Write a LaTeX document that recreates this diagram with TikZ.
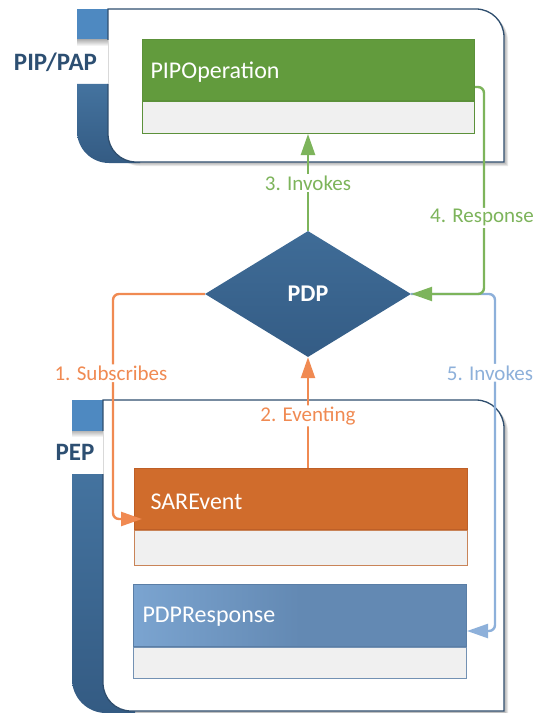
\documentclass[tikz,border=0pt]{standalone}
\usepackage{fontspec}
\setmainfont{Carlito}
\usetikzlibrary{shapes.geometric,arrows.meta}
\definecolor{tablight}{HTML}{4E89C1}
\definecolor{tabtop}{HTML}{44739F}
\definecolor{tabbot}{HTML}{345B83}
\definecolor{panelline}{HTML}{2F4E6E}
\definecolor{lbl}{HTML}{2D4F72}
\definecolor{grn}{HTML}{629B3D}
\definecolor{grnline}{HTML}{5C913A}
\definecolor{org}{HTML}{D06C2C}
\definecolor{orgline}{HTML}{BE5F27}
\definecolor{orgbody}{HTML}{C98458}
\definecolor{bluA}{HTML}{7BA4D0}
\definecolor{bluB}{HTML}{6389B3}
\definecolor{bluline}{HTML}{5A7EA6}
\definecolor{bodygray}{HTML}{F0F0F0}
\definecolor{dmdA}{HTML}{3F6C97}
\definecolor{dmdB}{HTML}{345C85}
\definecolor{cgrn}{HTML}{7DB45B}
\definecolor{corg}{HTML}{F08A52}
\definecolor{cblu}{HTML}{8DB0DA}
\begin{document}
\begin{tikzpicture}[x=1bp,y=-1bp,
  hdr/.style={draw, rectangle, anchor=north west, inner xsep=8bp, inner ysep=0bp,
    minimum height=61bp, text=white, align=left,
    font=\fontsize{24bp}{28bp}\selectfont, line width=1bp},
  bodybox/.style={draw, rectangle, anchor=north west, fill=bodygray, inner sep=0bp, line width=1bp},
  conn/.style={line width=2.4bp, rounded corners=6bp, -{Triangle[length=21bp,width=14bp]}},
  clabel/.style={fill=white, inner sep=1.5bp, font=\fontsize{21bp}{24bp}\selectfont},
  grouplbl/.style={text=lbl, font=\bfseries\fontsize{25bp}{30bp}\selectfont, anchor=base},
  panelshadow/.style={fill=black, opacity=0.09},
  panelborder/.style={draw=panelline, line width=1.3bp},
]
\useasboundingbox (0,0) rectangle (536,713);

% ---------- top container (PIP/PAP) ----------
\foreach \s in {2,3,4}{
  \fill[panelshadow, shift={(\s,\s)}] (108,9) -- (476,9) arc[start angle=270,end angle=360,radius=28]
     -- (504,162) -- (136,162) arc[start angle=90,end angle=180,radius=28] -- cycle;
}
\fill[tablight] (77,9) rectangle (140,40);
\shade[top color=black!28, bottom color=white] (77,40) rectangle (108,46);
\shade[top color=tabtop, bottom color=tabbot] (77,84) -- (140,84) -- (140,163) -- (109,163)
   arc[start angle=90,end angle=180,radius=32] -- cycle;
\fill[white] (108,9) -- (476,9) arc[start angle=270,end angle=360,radius=28]
   -- (504,162) -- (136,162) arc[start angle=90,end angle=180,radius=28] -- cycle;
\draw[panelborder] (108,84) -- (108,134) arc[start angle=180,end angle=90,radius=28]
   -- (504,162) -- (504,37) arc[start angle=0,end angle=-90,radius=28] -- (108,9) -- (108,40);
\draw[black!15, line width=0.8bp] (108,40) -- (108,84);

% ---------- bottom container (PEP) ----------
\foreach \s in {2,3,4}{
  \fill[panelshadow, shift={(\s,\s)}] (103,400) -- (476,400) arc[start angle=270,end angle=360,radius=28]
     -- (504,711) -- (131,711) arc[start angle=90,end angle=180,radius=28] -- cycle;
}
\fill[tablight] (72,400) rectangle (135,431);
\shade[top color=black!28, bottom color=white] (72,431) rectangle (103,437);
\shade[top color=tabtop, bottom color=tabbot] (72,474) -- (135,474) -- (135,713) -- (106,713)
   arc[start angle=90,end angle=180,radius=34] -- cycle;
\fill[white] (103,400) -- (476,400) arc[start angle=270,end angle=360,radius=28]
   -- (504,711) -- (131,711) arc[start angle=90,end angle=180,radius=28] -- cycle;
\draw[panelborder] (103,474) -- (103,683) arc[start angle=180,end angle=90,radius=28]
   -- (504,711) -- (504,428) arc[start angle=0,end angle=-90,radius=28] -- (103,400) -- (103,431);
\draw[black!15, line width=0.8bp] (103,431) -- (103,474);

% ---------- group labels ----------
\node[grouplbl] (piplbl) at (55.5,70.5) {PIP/PAP};
\node[grouplbl] (peplbl) at (75,460) {PEP};

% ---------- boxes ----------
\node[hdr, fill=grn, draw=grnline, text width=316bp, text height=17bp, text depth=0bp]
  (pipop) at (142,39) {PIPOperation};
\node[bodybox, draw=grnline, minimum width=332bp, minimum height=32bp] (pipbody) at (pipop.south west) {};

\node[hdr, fill=org, draw=orgline, inner xsep=16bp, text width=301bp, text height=21bp, text depth=0bp]
  (sar) at (134,468) {SAREvent};
\node[bodybox, draw=orgbody, minimum width=333bp, minimum height=35bp] (sarbody) at (sar.south west) {};

\node[hdr, left color=bluA, right color=bluB, middle color=bluB, draw=bluline, minimum height=62bp, inner xsep=9bp,
  text width=315bp, text height=14bp, text depth=0bp]
  (pdr) at (133,584) {PDPResponse};
\node[bodybox, draw=bluline!85, minimum width=333bp, minimum height=31bp] (pdrbody) at (pdr.south west) {};

% ---------- PDP diamond ----------
\node[diamond, minimum width=206bp, minimum height=126bp, inner sep=0bp, top color=dmdA,
  bottom color=dmdB, text=white, font=\bfseries\fontsize{24bp}{28bp}\selectfont]
  (pdp) at (308,294) {PDP};

% ---------- connectors ----------
\coordinate (c1) at (113,519);
\coordinate (c4) at (484,87);
\coordinate (c5) at (495,631);

\draw[conn, color=corg] (pdp.west) -| node[clabel, text=corg, pos=0.676, xshift=-2bp] {1. Subscribes} (c1)
   -- ([xshift=8bp]sar.west |- c1);
\draw[conn, color=corg] (pdp.south |- sar.north) -- node[clabel, text=corg, pos=0.47] {2. Eventing} (pdp.south);
\draw[conn, color=cgrn] (pdp.north) -- node[clabel, text=cgrn, pos=0.495] {3. Invokes} (pdp.north |- pipbody.south);
\draw[conn, color=cblu] (pdp.east) -| node[clabel, text=cblu, pos=0.617, xshift=-5bp] {5. Invokes} (c5) -- (pdr.east |- c5);
\draw[conn, color=cgrn] (pipop.east |- c4) -- (c4) |- node[clabel, text=cgrn, pos=0.316, xshift=-2bp] {4. Response} (pdp.east);
\end{tikzpicture}
\end{document}
